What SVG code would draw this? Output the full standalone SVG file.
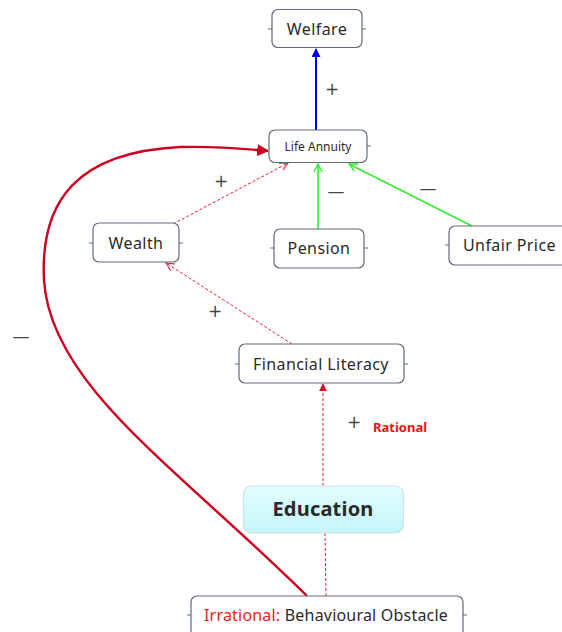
<svg xmlns="http://www.w3.org/2000/svg" width="562" height="632" viewBox="0 0 562 632">
<defs>
<style>
.box{fill:#fff;stroke:#5f6b78;stroke-width:1.2}
.stub{stroke:#5f6b78;stroke-width:1}
.t{font-family:"Noto Sans","Open Sans",sans-serif;fill:#2a2a2a;text-anchor:middle;letter-spacing:0.4px}
.sign{font-family:"DejaVu Sans",sans-serif;fill:#444;font-size:17px;text-anchor:middle}
.dash{fill:none;stroke:#e0203a;stroke-width:1;stroke-dasharray:3 2}
.green{fill:none;stroke:#33ee33;stroke-width:1.6}
</style>
<linearGradient id="edu" x1="0" y1="0" x2="0" y2="1">
<stop offset="0" stop-color="#e2fdff"/>
<stop offset="1" stop-color="#c4f5f9"/>
</linearGradient>
<marker id="blueArr" viewBox="0 0 10 10" refX="9" refY="5" markerWidth="9" markerHeight="9" markerUnits="userSpaceOnUse" orient="auto">
<path d="M0,0 L10,5 L0,10 z" fill="#0000ee"/>
</marker>
<marker id="greenArr" viewBox="0 0 10 10" refX="9" refY="5" markerWidth="9" markerHeight="9" markerUnits="userSpaceOnUse" orient="auto">
<path d="M0,0.5 L9,5 L0,9.5" fill="none" stroke="#33ee33" stroke-width="1.5"/>
</marker>
<marker id="redOpen" viewBox="0 0 10 10" refX="9" refY="5" markerWidth="9" markerHeight="9" markerUnits="userSpaceOnUse" orient="auto">
<path d="M0,0.5 L9,5 L0,9.5" fill="none" stroke="#e0203a" stroke-width="1.2"/>
</marker>
<marker id="redFill" viewBox="0 0 10 10" refX="9" refY="5" markerWidth="8" markerHeight="8" markerUnits="userSpaceOnUse" orient="auto">
<path d="M0,0 L10,5 L0,10 z" fill="#d0102a"/>
</marker>
<marker id="bigRed" viewBox="0 0 10 10" refX="9" refY="5" markerWidth="12" markerHeight="12" markerUnits="userSpaceOnUse" orient="auto">
<path d="M0,0 L10,5 L0,10 z" fill="#cc0020"/>
</marker>
</defs>

<g id="connectors">
<line x1="316" y1="130" x2="316" y2="49" stroke="#0000ee" stroke-width="2" marker-end="url(#blueArr)"/>
<line class="dash" x1="173" y1="224" x2="288" y2="163" marker-end="url(#redOpen)"/>
<line class="green" x1="318" y1="229" x2="318" y2="164" marker-end="url(#greenArr)"/>
<line class="green" x1="472" y1="226" x2="349" y2="164" marker-end="url(#greenArr)"/>
<line class="dash" x1="292" y1="344" x2="166" y2="263" marker-end="url(#redOpen)"/>
<line class="dash" x1="323" y1="486" x2="323" y2="384" marker-end="url(#redFill)"/>
<line class="dash" x1="326" y1="596" x2="325" y2="533"/>
<path d="M307,596 C180,470 50,385 44,280 C40,200 78,152 180,147 C220,146 245,149 268,151" fill="none" stroke="#cc0020" stroke-width="2.4" marker-end="url(#bigRed)"/>
<text class="sign" x="332" y="95">+</text>
<text class="sign" x="221" y="187">+</text>
<text class="sign" x="336" y="197">—</text>
<text class="sign" x="428" y="194">—</text>
<text class="sign" x="215" y="317">+</text>
<text class="sign" x="354" y="428">+</text>
<text class="sign" x="21" y="342">—</text>
<text x="373" y="432" font-family="'Noto Sans','Open Sans',sans-serif" font-weight="bold" font-size="13" fill="#ee1111">Rational</text>
</g>

<g id="welfare">
<line class="stub" x1="268" y1="29" x2="272" y2="29"/><line class="stub" x1="362" y1="29" x2="366" y2="29"/>
<rect class="box" x="272" y="9.5" width="90" height="38" rx="6"/>
<text class="t" x="317" y="34.5" font-size="16">Welfare</text>
</g>

<g id="life-annuity">
<line class="stub" x1="367" y1="146" x2="371" y2="146"/>
<rect class="box" x="269" y="130" width="98" height="32.5" rx="6"/>
<text class="t" x="318" y="150.5" font-size="12" style="letter-spacing:0px">Life Annuity</text>
</g>

<g id="wealth">
<line class="stub" x1="89" y1="243" x2="93" y2="243"/><line class="stub" x1="179" y1="243" x2="183" y2="243"/>
<rect class="box" x="93" y="223" width="86" height="39" rx="6"/>
<text class="t" x="136" y="248.5" font-size="16">Wealth</text>
</g>

<g id="pension">
<line class="stub" x1="270" y1="248" x2="274" y2="248"/><line class="stub" x1="364" y1="248" x2="368" y2="248"/>
<rect class="box" x="274" y="229" width="90" height="39" rx="6"/>
<text class="t" x="319" y="253.5" font-size="16">Pension</text>
</g>

<g id="unfair-price">
<line class="stub" x1="445" y1="245" x2="449" y2="245"/>
<rect class="box" x="449" y="226" width="130" height="39" rx="6"/>
<text class="t" x="463" y="251" font-size="16" style="text-anchor:start">Unfair Price</text>
</g>

<g id="financial-literacy">
<line class="stub" x1="235" y1="364" x2="239" y2="364"/><line class="stub" x1="404" y1="364" x2="408" y2="364"/>
<rect class="box" x="239" y="344" width="165" height="39" rx="6"/>
<text class="t" x="321" y="369.5" font-size="16">Financial Literacy</text>
</g>

<g id="education">
<rect x="243.5" y="486" width="160" height="47" rx="8" fill="url(#edu)" stroke="#cfe3e6" stroke-width="1.2"/>
<text class="t" x="323" y="516" font-size="20" font-weight="bold" fill="#111" style="letter-spacing:0.2px">Education</text>
</g>

<g id="behavioural-obstacle">
<line class="stub" x1="187" y1="615" x2="191" y2="615"/><line class="stub" x1="463" y1="615" x2="467" y2="615"/>
<rect class="box" x="191" y="596" width="272" height="45" rx="6"/>
<text class="t" x="326" y="620.5" font-size="16" style="letter-spacing:0.2px"><tspan fill="#ee2222">Irrational:</tspan> Behavioural Obstacle</text>
</g>
</svg>
